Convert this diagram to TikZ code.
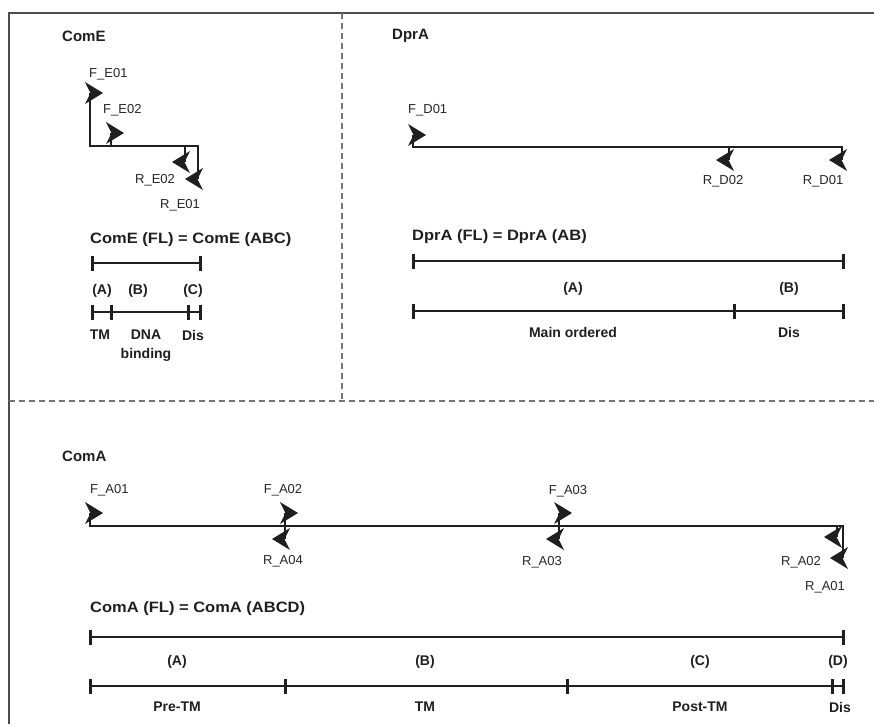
\documentclass[tikz,border=0pt]{standalone}
\usepackage{fontspec}
\setmainfont{Liberation Sans}
\newfontfamily\wideft[FakeStretch=1.1]{Liberation Sans}
\begin{document}
\begin{tikzpicture}[x=1pt,y=-1pt,
  base/.style={black!88, line width=2pt},
  tk/.style={black!88, line width=3pt},
  frame/.style={line width=1.5pt, black!70},
  sep/.style={black!55, line width=1.2pt, dash pattern=on 6pt off 4pt},
  plab/.style={font=\fontsize{13}{13}\selectfont, inner sep=0pt, text=black!85},
  ttl/.style={font=\bfseries\fontsize{15}{15}\selectfont, inner sep=0pt, anchor=west, text=black!88},
  fl/.style={font=\wideft\bfseries\fontsize{15}{15}\selectfont, inner sep=0pt, anchor=west, text=black!88},
  dom/.style={font=\bfseries\fontsize{14}{14}\selectfont, inner sep=0pt, text=black!88},
  fwd/.pic={\fill[black!88] (13,0) -- (-5,-11) -- (0.5,0) -- (-5,11) -- cycle;},
  rev/.pic={\fill[black!88] (-13,0) -- (5,-11) -- (-0.5,0) -- (5,11) -- cycle;},
]
\useasboundingbox (0,0) rectangle (874,724);
% frame and separators
\draw[frame] (9,724) -- (9,13) -- (874,13);
\draw[sep] (9,401) -- (874,401);
\draw[sep] (342,13) -- (342,401);

% ================= ComE =================
\node[ttl] (comeT) at (62,36) {ComE};
\draw[base] (90,93) -- (90,146) -- (198,146) -- (198,179);
\draw[base] (111,146) -- (111,133);
\draw[base] (185,146) -- (185,162);
\pic at (90,93) {fwd};
\pic at (111,133) {fwd};
\pic at (185,162) {rev};
\pic at (198,179) {rev};
\node[plab, anchor=west] (fe01) at (89,74) {F\_E01};
\node[plab, anchor=west] (fe02) at (103,110) {F\_E02};
\node[plab, anchor=west] (re02) at (135,180) {R\_E02};
\node[plab, anchor=west] (re01) at (160,205) {R\_E01};

\node[fl] (comeFL) at (90,240) {ComE (FL) = ComE (ABC)};
\draw[base] (92,263) -- (200,263);
\foreach \x in {92,200} \draw[tk] (\x,255.5) -- (\x,270.5);
\node[dom] (ceA) at (102,291) {(A)};
\node[dom] (ceB) at (138,291) {(B)};
\node[dom] (ceC) at (193,291) {(C)};
\draw[base] (92,312) -- (200,312);
\foreach \x in {92,111,188,200} \draw[tk] (\x,304.5) -- (\x,319.5);
\node[dom] (ceTM) at (100,335) {TM};
\node[dom] (ceDNA) at (146,335) {DNA};
\node[dom] (ceBind) at (146,355) {binding};
\node[dom] (ceDis) at (193,335) {Dis};

% ================= DprA =================
\node[ttl] (dpraT) at (392,36) {DprA};
\draw[base] (413,135) -- (413,147) -- (842,147) -- (842,160);
\draw[base] (729,147) -- (729,160);
\pic at (413,135) {fwd};
\pic at (729,160) {rev};
\pic at (842,160) {rev};
\node[plab, anchor=west] (fd01) at (408,110) {F\_D01};
\node[plab] (rd02) at (723,181) {R\_D02};
\node[plab] (rd01) at (823,181) {R\_D01};

\node[fl] (dpraFL) at (412,237) {DprA (FL) = DprA (AB)};
\draw[base] (413,261) -- (843,261);
\foreach \x in {413,843} \draw[tk] (\x,253.5) -- (\x,268.5);
\node[dom] (dA) at (573,289) {(A)};
\node[dom] (dB) at (789,289) {(B)};
\draw[base] (413,311) -- (843,311);
\foreach \x in {413,734,843} \draw[tk] (\x,303.5) -- (\x,318.5);
\node[dom] (dMain) at (573,332) {Main ordered};
\node[dom] (dDis) at (789,332) {Dis};

% ================= ComA =================
\node[ttl] (comaT) at (62,456) {ComA};
\draw[base] (90,513) -- (90,526) -- (843,526) -- (843,558);
\draw[base] (285,513) -- (285,539);
\draw[base] (559,513) -- (559,539);
\draw[base] (837,526) -- (837,537);
\pic at (90,513) {fwd};
\pic at (285,513) {fwd};
\pic at (285,539) {rev};
\pic at (559,513) {fwd};
\pic at (559,539) {rev};
\pic at (837,537) {rev};
\pic at (843,558) {rev};
\node[plab, anchor=west] (fa01) at (90,490) {F\_A01};
\node[plab] (fa02) at (283,490) {F\_A02};
\node[plab] (ra04) at (283,561) {R\_A04};
\node[plab] (fa03) at (568,491) {F\_A03};
\node[plab] (ra03) at (542,562) {R\_A03};
\node[plab] (ra02) at (801,562) {R\_A02};
\node[plab] (ra01) at (825,587) {R\_A01};

\node[fl] (comaFL) at (90,609) {ComA (FL) = ComA (ABCD)};
\draw[base] (90,637) -- (843,637);
\foreach \x in {90,843} \draw[tk] (\x,629.5) -- (\x,644.5);
\node[dom] (aA) at (177,662) {(A)};
\node[dom] (aB) at (425,662) {(B)};
\node[dom] (aC) at (700,662) {(C)};
\node[dom] (aD) at (838,662) {(D)};
\draw[base] (90,686) -- (843,686);
\foreach \x in {90,285,567,832,843} \draw[tk] (\x,678.5) -- (\x,693.5);
\node[dom] (aPre) at (177,707) {Pre-TM};
\node[dom] (aTM) at (425,707) {TM};
\node[dom] (aPost) at (700,707) {Post-TM};
\node[dom] (aDis) at (840,707) {Dis};
\end{tikzpicture}
\end{document}
